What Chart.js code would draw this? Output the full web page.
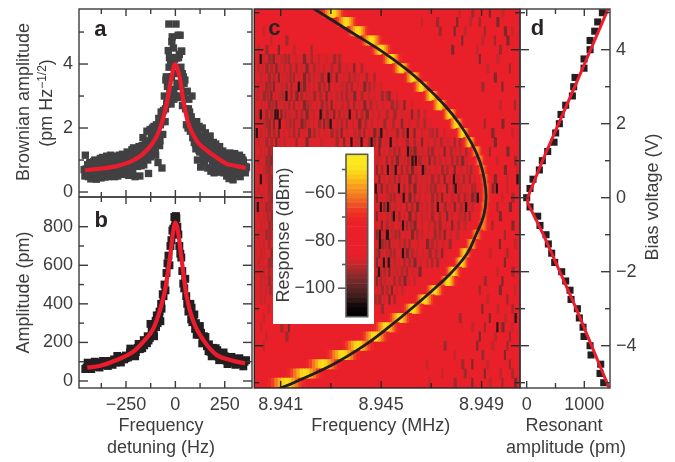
<!DOCTYPE html>
<html><head><meta charset="utf-8">
<style>html,body{margin:0;padding:0;background:#fff;width:675px;height:462px;overflow:hidden}
canvas{position:absolute;left:0;top:0;pointer-events:none}
#white{position:absolute;left:273px;top:147px;width:101px;height:177px;background:#fff}</style>
<script src="https://cdn.jsdelivr.net/npm/chart.js@4"></script>
</head><body>
<script>
// ---------- panel a: Brownian amplitude ----------
const brownianHz=[-456,-452,-448,-444,-440,-436,-432,-428,-424,-420,-416,-412,-408,-404,-400,-396,-392,-388,-384,-380,
-376,-372,-368,-364,-360,-356,-352,-348,-344,-340,-336,-332,-328,-324,-320,-316,-312,-308,-304,-300,
-296,-292,-288,-284,-280,-276,-272,-268,-264,-260,-256,-252,-248,-244,-240,-236,-232,-228,-224,-220,
-216,-212,-208,-204,-200,-196,-192,-188,-184,-180,-176,-172,-168,-164,-160,-156,-152,-148,-144,-140,
-136,-132,-128,-124,-120,-116,-112,-108,-104,-100,-96,-92,-88,-84,-80,-76,-72,-68,-64,-60,
-56,-52,-48,-44,-40,-36,-32,-28,-24,-20,-16,-12,-8,-4,0,4,8,12,16,20,
24,28,32,36,40,44,48,52,56,60,64,68,72,76,80,84,88,92,96,100,
104,108,112,116,120,124,128,132,136,140,144,148,152,156,160,164,168,172,176,180,
184,188,192,196,200,204,208,212,216,220,224,228,232,236,240,244,248,252,256,260,
264,268,272,276,280,284,288,292,296,300,304,308,312,316,320,324,328,332,336,340,344,348,352,356,
-33,3,-18,14,-10,-30,20,30,-34,-46,-42,-28,-5,-15,10,-8,8,15,-22,35,44,-50,28,
-462,-450,-438,-426,-414,-402,-390,-378,-366,-354,-342,-330,-318,-306,-294,-282,-270,-258,-246,-234,-222,-210,-198,-186,-174,-162,-150,-138,-126,-114,-102,-90,-78,-66,
-458,-434,-410,-386,-362,-338,-314,-290,-266,-242,-218,-194,-170,-146,-122,-98,-74,
66,78,90,102,114,126,138,150,162,174,186,198,210,222,234,246,258,270,282,294,306,318,330,342,354,
72,96,120,144,168,192,216,240,264,288,312,336,360];
const brownianAmp=[1.15,.72,.55,.85,.48,.62,.92,.41,.70,.55,.88,.46,1.0,.60,.40,.78,.95,.52,.68,1.05,
.44,.82,1.08,.58,.90,.47,.72,1.12,.62,.48,.95,.70,1.15,.52,.85,1.02,.60,.48,.92,1.12,
.65,.50,.98,1.15,.72,.88,.55,1.18,.80,.62,1.08,.58,.92,1.25,.70,.52,1.2,.85,1.0,1.32,
.70,1.38,.92,.48,1.15,1.35,.80,1.05,1.42,.50,1.22,.95,1.45,1.7,.85,1.3,1.6,1.1,1.9,1.0,
.58,1.5,1.95,1.25,1.75,2.0,1.35,2.05,1.55,1.15,2.1,1.7,.92,2.3,1.45,2.1,2.5,.75,1.8,2.55,
3.0,2.2,3.5,2.75,3.3,4.42,3.9,2.9,4.05,3.6,4.85,4.2,3.2,4.15,3.0,4.2,3.7,2.95,4.2,3.3,
4.9,3.9,4.4,2.7,3.6,3.0,3.5,2.6,2.1,3.15,2.0,2.9,2.5,1.9,2.35,3.0,1.7,2.1,1.55,1.9,
1.35,2.2,1.0,1.75,2.05,1.25,.78,1.6,2.0,1.15,1.5,.95,1.85,1.2,1.65,.75,1.4,1.05,1.75,.65,
1.3,.85,1.55,.6,1.1,1.5,.9,.62,1.35,1.05,1.42,.72,1.2,.9,1.28,.6,1.05,1.2,.75,.5,
1.15,.88,.42,1.22,.7,1.0,.55,.38,.95,1.2,.78,.55,1.1,.82,.65,1.15,.48,.92,1.08,.7,.95,.62,.8,.72,
5.25,5.25,4.7,4.9,4.5,4.2,4.3,4.4,3.4,3.6,2.9,3.1,4.2,4.2,4.2,2.9,3.4,3.0,2.75,3.7,3.4,2.6,3.3,
.7,.52,.78,.6,.95,.72,.55,.88,.66,.98,.75,.58,1.06,.82,.6,1.0,.68,.9,1.1,.78,.6,1.15,.95,1.2,.82,1.0,1.25,1.5,1.1,1.65,1.35,1.85,1.6,2.2,
.5,.9,.58,.8,.68,.85,.75,.8,1.05,.9,1.1,1.28,1.4,1.55,1.7,1.9,2.25,
2.6,2.3,1.95,1.5,1.85,1.45,1.7,1.3,1.55,1.25,1.4,1.0,1.25,.8,1.15,.92,.85,1.05,.7,1.1,.95,.6,.85,1.0,.6,
2.15,1.7,1.3,1.0,1.2,1.1,.8,.95,.7,.78,.95,.62,.78];
const brownianFitHz=[-457,-380,-297,-213,-162,-111,-78,-44,-19,-8,0,8,23,40,66,108,159,209,260,310,356];
const brownianFitAmp=[.68,.73,.81,.99,1.2,1.56,1.98,2.76,3.6,3.92,4.0,3.9,3.55,2.86,2.14,1.6,1.3,1.08,.88,.81,.75];

// ---------- panel b: driven amplitude ----------
const drivenHz=[-450,-440,-430,-420,-410,-400,-390,-380,-370,-360,-350,-340,-330,-320,-310,-300,-290,-280,-270,-260,
-250,-240,-230,-220,-210,-200,-190,-180,-170,-160,-150,-140,-130,-120,-110,-100,-90,-80,-70,-60,
-50,-40,-30,-20,-10,0,10,20,30,40,50,60,70,80,90,100,110,120,130,140,
150,160,170,180,190,200,210,220,230,240,250,260,270,280,290,300,310,320,330,340,350,
-55,-45,-35,-25,-15,-5,5,15,25,35,45,55,-8,8,-3,3,
-456,-444,-426,-408,-384,-366,-342,-318,-294,-276,-252,-228,-204,-186,-168,-144,-126,-108,-94,-76,-64,
66,76,86,96,108,124,136,152,168,184,204,222,244,264,284,304,324,344,358,
-72,-82,-98,-114,-136,-158,82,104,118,144,176,212];
const drivenAmp=[70,88,78,92,74,86,80,95,82,98,88,104,92,100,112,96,118,106,124,112,
132,122,148,134,158,150,172,165,180,212,200,232,222,260,262,312,300,360,375,440,
470,610,600,730,790,835,800,700,640,505,530,400,385,320,330,270,285,240,250,205,
218,180,190,160,172,135,150,125,138,118,128,105,118,100,115,96,110,92,105,88,100,
500,560,650,700,780,850,845,760,660,570,480,440,760,770,800,855,
62,95,62,100,70,104,78,84,130,96,118,168,128,192,170,196,296,232,340,310,450,
360,400,305,345,240,285,195,228,155,128,170,108,148,88,125,84,118,76,108,
400,340,280,290,210,185,380,300,275,232,152,160];
const drivenFitHz=[-446,-381,-297,-213,-162,-111,-78,-52,-27,-10,0,12,32,57,91,142,209,277,353];
const drivenFitAmp=[69,79,109,152,204,273,368,472,645,783,821,783,627,437,308,212,135,109,91];

// ---------- panel c: response map ----------
const biasV=[5,4.75,4.5,4.25,4,3.75,3.5,3.25,3,2.75,2.5,2.25,2,1.75,1.5,1.25,1,.75,.5,.25,0,-.25,-.5,-.75,-1,-1.25,-1.5,-1.75,-2,-2.25,-2.5,-2.75,-3,-3.25,-3.5,-3.75,-4,-4.25,-4.5,-4.75,-5];
const peakMHz=[8.94310,8.94363,8.94409,8.94463,8.94502,8.94542,8.94582,8.94628,8.94662,8.94702,8.94735,8.94775,8.94801,8.94827,8.94854,8.94881,8.94894,8.94905,8.94914,8.94918,8.94918,8.94914,8.94910,8.94907,8.94881,8.94861,8.94834,8.94821,8.94788,8.94768,8.94715,8.94675,8.94628,8.94575,8.94522,8.94476,8.94409,8.94349,8.94270,8.94197,8.94124];
const peakTopDb=[-50,-50,-50,-50,-50,-50,-50,-50,-50,-50,-50,-50,-50,-50,-52,-56,-58,-60,-60,-60,-60,-60,-60,-60,-58,-56,-52,-50,-50,-50,-50,-50,-50,-50,-50,-50,-50,-50,-50,-50,-50];
const peakHalfKHz=[.45,.4,.4,.4,.38,.36,.34,.32,.32,.3,.3,.28,.28,.26,.24,.22,.2,.2,.18,.18,.18,.18,.18,.2,.22,.24,.26,.28,.3,.32,.34,.36,.38,.42,.46,.5,.55,.6,.62,.65,.68];
const peakShapeAt=[-1,-.8,-.6,-.4,-.2,0,.2,.4,.6,.8,1];
const peakShape=[.05,.25,.5,.72,.92,1,.92,.72,.5,.25,.05];
const dimEndKHz=[0,0,0,0,0,3.5,4,4.5,5,5.5,6,6.5,7,7.3,7.8,8,8.2,8.4,8.5,8.5,8.6,8.6,8.5,8.3,8,7.8,7.4,7,6.5,6,5.5,5,0,0,0,0,0,0,0,0,0];
const midStreakKHz=[[8.1,8.6,9.3,9.8],[6.6,7.2,8.0,8.5,8.9,9.6],[.3,7.3,7.9,8.3,9.1,9.9,10.2],[.6,1.2,8.2,9.0,9.5,10.0],[.1,.4,.9,1.5,2.2,7.8,8.8,9.7],
[.3,.5,.7,1.0,1.3,1.9,2.5,3.1,8.9,9.6],[.1,.4,.8,1.1,1.6,2.0,2.7,3.3,3.9,9.2,10.1],[.2,.5,.9,1.2,1.5,1.9,2.3,2.6,3.2,3.9,4.4,9.5],[.1,.4,.7,1.0,1.4,1.9,2.1,2.5,2.9,3.4,3.8,4.3,4.7,9.0,9.8],
[.05,.3,.6,.9,1.4,1.6,2.0,2.3,2.8,3.2,3.6,3.9,4.5,5.0,5.3],[.2,.5,.8,1.1,1.5,1.9,2.2,2.6,3.0,3.4,3.9,4.3,4.8,5.4,5.9,9.7,10.3],[.1,.4,1.0,1.3,1.6,2.0,2.3,2.8,3.1,3.5,4.0,4.4,4.9,5.5,6.2,6.7],
[.3,.5,.7,1.2,1.5,1.8,2.1,2.5,2.7,3.2,3.6,4.1,4.6,5.1,5.8,6.4,9.1,9.8],[.2,.5,.9,1.3,1.7,2.1,2.5,3.0,3.4,3.9,4.3,4.7,5.2,5.6,6.3,6.9,7.2,9.4,10.2],[.1,.4,.8,1.1,1.6,2.0,2.6,3.2,3.5,4.0,4.5,4.9,5.6,6.0,6.6,7.1,7.9,9.5],
[.2,.5,4.9,5.3,5.7,6.3,6.6,7.0,7.5,8.1,9.3,10.0],[.1,.4,.6,4.8,5.2,5.6,5.9,6.5,6.9,7.3,7.8,8.2,9.6,10.3],[.3,.5,4.8,5.4,5.8,6.2,6.9,7.4,7.9,8.4,9.2,9.9,10.4],[.4,.6,4.9,5.3,5.7,6.1,6.6,7.0,7.5,8.0,8.5,9.5,10.0,10.4],
[.1,.5,5.0,5.4,5.9,6.3,6.8,7.1,7.6,8.1,8.6,9.4,10.0],[.2,.6,4.8,5.2,5.5,6.1,6.5,7.0,7.4,7.8,8.3,8.6,9.8,10.2],[.1,.4,5.1,5.5,6.0,6.4,6.8,7.5,7.9,8.6,9.6,10.1],[.3,.6,4.8,5.2,5.7,6.1,6.6,7.0,7.6,8.1,8.5,9.7],[.2,.5,5.0,5.4,6.0,6.3,6.9,7.3,7.8,8.3,9.4,10.2],
[.1,.4,4.8,5.4,5.7,6.2,6.6,7.1,7.5,8.0,9.9],[.3,5.0,5.3,5.7,6.1,6.8,7.2,7.7,9.7,10.3],[.2,.6,4.9,5.2,5.5,6.0,6.4,6.9,7.4,9.3,10.0],[.1,.5,4.8,5.5,5.9,6.3,6.8,7.2,9.9],[.3,4.9,5.3,5.6,6.0,6.5,9.6,10.2],[.2,.5,4.8,5.1,5.5,5.9,6.3,9.1,9.8],[.4,5.0,5.4,5.8,8.9,9.7,10.3],[.2,4.9,5.3,9.2,10.0],[.5,5.0,9.0,9.6,10.2],[.3,8.1,9.3,9.9,10.3],[.2,1.0,1.3,8.6,9.1,9.8,10.2],[.4,1.2,8.9,9.5,10.1],[.3,7.5,8.8,9.4,10.0],[7.9,9.0,9.9],[6.8,8.2,8.6,9.2,10.1],[7.4,8.3,9.1,9.7,10.2],[6.9,7.9,8.6,9.3,9.8,10.3]];
// fine streaks, rows V=3.75 down to V=-2.75
const fineFirstRow=5;
const fineStreakKHz=[[.15,.6,.85,1.15,1.6,2.2,2.8,3.3],[.25,.6,.95,1.35,1.8,2.3,2.5,3.0,3.6,4.2],[.35,.7,1.05,1.35,1.7,2.1,2.45,2.95,3.5,3.7,4.1,4.7],[.25,.55,.85,1.2,1.55,1.75,2.3,2.7,3.15,3.6,4.05,4.5,5.0],
[.15,.45,.75,1.05,1.25,1.8,2.15,2.55,3.0,3.4,3.75,4.2,4.7,5.2,5.6],[.35,.65,.95,1.3,1.7,2.05,2.4,2.8,3.2,3.65,4.1,4.55,5.05,5.6,6.2],[.25,.6,.85,1.15,1.45,1.8,2.15,2.6,2.95,3.3,3.8,4.2,4.65,5.2,5.8,6.45],[.15,.4,.95,1.35,1.65,1.95,2.3,2.85,3.0,3.4,3.85,4.35,4.85,5.45,6.1,6.7],
[.35,.7,1.1,1.5,1.9,2.3,2.75,3.2,3.65,4.1,4.5,4.9,5.4,5.85,6.6,7.0,7.5],[.25,.6,.95,4.7,5.15,5.35,5.85,6.3,6.85,7.35,7.65,8.1],[.35,.65,5.1,5.5,5.95,6.15,6.45,6.85,7.25,7.75,7.95,8.35],[.25,.5,4.95,5.4,5.8,6.05,6.7,7.1,7.55,8.0,8.4],
[.15,.4,.65,5.0,5.6,6.0,6.4,6.7,7.15,7.6,8.15,8.55],[.25,.5,5.1,5.5,5.9,6.35,6.8,7.25,7.7,8.25,8.7],[.3,.65,4.9,5.2,5.65,6.1,6.55,6.95,7.35,7.85,8.35,8.7],[.35,.5,5.0,5.35,5.75,6.3,6.75,7.2,7.6,8.05,8.45,8.75],[.25,.55,4.8,5.3,5.75,6.2,6.6,7.0,7.7,8.15,8.4],[.15,.45,5.0,5.4,5.9,6.35,6.8,7.3,7.8,8.3],[.35,.65,4.8,5.2,5.7,6.15,6.6,7.1,7.55,8.05],
[.25,.55,5.05,5.55,5.95,6.4,6.85,7.3,7.75],[.15,.5,4.8,5.15,5.5,5.9,6.45,7.0,7.45],[.35,4.8,5.05,5.35,5.75,6.2,6.65,7.15],[.25,.6,5.0,5.3,5.7,6.1,6.55,7.0],[.15,.5,4.75,5.1,5.45,5.8,6.25],[.35,4.95,5.3,5.7,6.1],[.2,.55,4.85,5.2,5.6],[.35,4.75,5.1,5.5]];
const deepStreakV=[3.75,3.25,3,2.75,2.25,2.25,2.25,2.25,2,2,1.75,1.75,1.75,1.5,1.5,1.5,1.5,1.25,1,1,.75,.75,.75,.5,.25,.25,.25,.25,0,0,-.25,-.25,-.25,-.25,-.5,-.75,-1,-1,-1,-1.25,-1.5,-1.75,-1.75,-2,-3.25,-3.5,.5,2.25,.5,-.25];
const deepStreakKHz=[.175,2.88,1.69,1.2,.76,.85,2.56,3.72,.93,2.96,.02,4.98,6.03,3.79,4.19,4.59,5.35,6.04,6.22,6.35,5.24,5.55,6.63,7.87,4.76,5.68,7.94,9.58,5.87,8.82,4.96,5.24,7.23,8.35,5.48,5.84,4.92,5.24,5.2,4.92,5.84,5.08,5.27,4.88,10.33,9.6,10.4,.18,.18,.06];
const curveV=[5.16,4.5,4,3.5,3,2.5,2,1.5,1,.5,0,-.5,-1,-1.5,-2,-2.5,-3,-3.5,-4,-4.5,-5,-5.18];
const curveMHz=[8.94220,8.94375,8.94493,8.94595,8.94680,8.94753,8.94812,8.94858,8.94892,8.94911,8.94918,8.94908,8.94878,8.94843,8.94783,8.94705,8.94620,8.94530,8.94432,8.94310,8.94152,8.94085];
const colorbarDb=[-112,-110,-108,-106,-104,-102,-100,-98,-96,-94,-92,-90,-88,-86,-84,-82,-80,-78,-76,-74,-72,-70,-68,-66,-64,-62,-60,-58,-56,-54,-52,-50,-48,-46,-44];

// ---------- panel d: resonant amplitude ----------
const resonantV=biasV;
const resonantPm=[1314,1233,1181,1100,1100,995,995,839,816,793,677,596,567,503,475,365,272,220,110,58,0,58,191,231,336,376,434,486,608,677,752,770,880,914,978,995,1100,1117,1285,1273,1337];
const resonantFitV=[5.12,3,1,0,-.15,-1,-3,-5.14];
const resonantFitPm=[1418,835,275,15,20,290,860,1430];

// ---------- ticks ----------
const freqMajor=[-250,0,250], freqMinor=[-375,-125,125];
const aMajor=[0,2,4], aMinor=[1,3,5];
const bMajor=[0,200,400,600,800], bMinor=[100,300,500,700];
const cXMajor=[8.941,8.945,8.949], cXMinor=[8.943,8.947];
const vMajor=[-4,-2,0,2,4], vMinor=[-5,-3,-1,1,3,5];
const dXMajor=[0,1000], dXMinor=[500];
const barMajor=[-100,-80,-60], barMinor=[-90,-70,-50];

// ---------- helpers ----------
const INK='#3c3c3e', RED='#ed1c2c', FONT='"Liberation Sans"';
Chart.defaults.font.family=FONT; Chart.defaults.font.size=18; Chart.defaults.color=INK;
const ramp=[[-112,[0,0,0]],[-108,[10,5,6]],[-104,[58,29,29]],[-100,[90,37,38]],[-96,[126,42,43]],[-92,[170,42,44]],[-88,[217,35,42]],[-85,[232,31,42]],[-72,[236,32,39]],[-68,[238,49,36]],[-64,[240,90,40]],[-60,[245,130,32]],[-56,[249,166,27]],[-52,[252,209,22]],[-48,[251,232,31]],[-44,[251,232,31]]];
function dbColor(d){for(let i=1;i<ramp.length;i++){if(d<=ramp[i][0]){const a=ramp[i-1],b=ramp[i],t=Math.max(0,(d-a[0])/(b[0]-a[0]));return 'rgb('+a[1].map((c,j)=>Math.round(c+(b[1][j]-c)*t)).join(',')+')';}}return 'rgb(251,232,31)';}
const minus=v=>String(v).replace('-','\u2212');
function zeroPad(s){s.paddingLeft=s.paddingRight=s.paddingTop=s.paddingBottom=0;}
function axis(pos,min,max,ticks,cb,pad,hide,size){
  const horiz=pos==='bottom';
  return {type:'linear',position:pos,min,max,display:!hide,
    grid:{display:false,drawTicks:false},border:{display:false},
    ticks:{autoSkip:false,minRotation:0,maxRotation:0,padding:pad,callback:cb||minus,color:INK,font:{size:18,family:FONT}},
    afterBuildTicks:s=>{s.ticks=ticks.map(v=>({value:v}));},
    afterFit:s=>{if(horiz)s.height=size;else s.width=size;zeroPad(s);}};
}
const framePlugin={id:'frameTicks',afterDraw(ch,_a,o){
  const c=ch.ctx,A=ch.chartArea,X=ch.scales.x,Y=ch.scales.y;
  c.save();c.lineCap='butt';c.strokeStyle=o.color||INK;c.lineWidth=o.width||1.4;
  if(o.frame!==false)c.strokeRect(A.left,A.top,A.right-A.left,A.bottom-A.top);
  const line=(a,b,d,e)=>{c.beginPath();c.moveTo(a,b);c.lineTo(d,e);c.stroke();};
  const ys=o.y||{},xs=o.x||{};
  [[ys.major||[],ys.majorLen||9],[ys.minor||[],ys.minorLen||5]].forEach(([l,n])=>l.forEach(v=>{const p=Y.getPixelForValue(v);
    if(o.outLeft){line(A.left,p,A.left-n,p);}else{line(A.left,p,A.left+n,p);line(A.right,p,A.right-n,p);}}));
  [[xs.major||[],xs.majorLen||7],[xs.minor||[],xs.minorLen||5]].forEach(([l,n])=>l.forEach(v=>{const p=X.getPixelForValue(v);
    line(p,A.top,p,A.top+n);line(p,A.bottom,p,A.bottom-n);}));
  (o.texts||[]).forEach(t=>{c.save();c.translate(t.x,t.y);if(t.rot)c.rotate(t.rot);c.fillStyle=t.color||INK;
    c.font=(t.bold?'bold ':'')+(t.size||18)+'px '+FONT;c.textBaseline=t.base||'middle';c.textAlign=t.align||'center';
    if(t.sup){const w1=c.measureText(t.text).width;c.font='12px '+FONT;const w2=c.measureText(t.sup).width;c.font='18px '+FONT;const w3=c.measureText(t.end).width;
      let x0=-(w1+w2+w3)/2;c.textAlign='left';c.fillText(t.text,x0,0);c.font='12px '+FONT;c.fillText(t.sup,x0+w1,-5);c.font='18px '+FONT;c.fillText(t.end,x0+w1+w2,0);}
    else c.fillText(t.text,0,0);c.restore();});
  c.restore();}};
// box=[left,right,top,bottom] of the plot; room = px reserved for visible axes
function make(box,z,cfg,room){
  room=room||{};
  const cv=document.createElement('canvas');cv.width=675;cv.height=462;cv.style.zIndex=z;
  cv.style.width='675px';cv.style.height='462px';document.body.appendChild(cv);
  cfg.options=Object.assign({responsive:false,animation:false,devicePixelRatio:1,
    layout:{padding:{left:box[0]-(room.left||0),right:675-box[1]-(room.right||0),top:box[2],bottom:462-box[3]-(room.bottom||0)}}},cfg.options);
  cfg.options.plugins=Object.assign({legend:{display:false},tooltip:{enabled:false}},cfg.options.plugins);
  cfg.plugins=[framePlugin];
  return new Chart(cv.getContext('2d'),cfg);
}
const UP=-Math.PI/2;
const pts=(xs,ys)=>xs.map((x,i)=>({x,y:ys[i]}));
const fitLine=(xs,ys,w,col)=>({data:pts(xs,ys),showLine:true,borderColor:col||RED,borderWidth:w,pointRadius:0,cubicInterpolationMode:'monotone',order:0});
const sq=(xs,ys,col,r)=>({data:pts(xs,ys),showLine:false,pointStyle:'rect',pointRadius:r,backgroundColor:col,borderWidth:0,order:1});

// ---------- heat map layer ----------
const fLo=8.93995,fHi=8.95053;
const k2m=k=>8.94+k/1000;
const layer=(data,cols,order,th)=>({data,backgroundColor:cols,borderWidth:0,grouped:false,barThickness:th,order});
const baseBars=biasV.map(v=>({x:[fLo,fHi],y:v}));
const dimBars=[],dimCols=[],midBars=[],midCols=[],fineBars=[],fineCols=[],peakBars=[],peakCols=[];
biasV.forEach((v,i)=>{
  if(dimEndKHz[i]>0){dimBars.push({x:[fLo,k2m(dimEndKHz[i])],y:v});dimCols.push(dbColor(-87.2));}
  midStreakKHz[i].forEach((k,j)=>{midBars.push({x:[k2m(k),k2m(k+.06+(j%2)*.04)],y:v});midCols.push(dbColor(-90-(j%3)*3));});
  (fineStreakKHz[i-fineFirstRow]||[]).forEach((k,j)=>{fineBars.push({x:[k2m(k),k2m(k+.05+(j%2)*.03)],y:v});fineCols.push(dbColor(-89-(j%2)*3));});
  peakShapeAt.forEach((o,j)=>{const h=peakHalfKHz[i]/1000,m=peakMHz[i]+o*h;
    peakBars.push({x:[m-h*.11,m+h*.11],y:v});peakCols.push(dbColor(-72+(peakTopDb[i]+72)*peakShape[j]));});
});
const deepBars=deepStreakV.map((v,i)=>({x:[k2m(deepStreakKHz[i]),k2m(deepStreakKHz[i]+.06)],y:v}));
make([254.3,520,9,388],1,{type:'bar',data:{datasets:[
   layer(baseBars,'rgb(233,32,42)',6,10),layer(dimBars,dimCols,5,9.4),layer(fineBars,fineCols,4,9.4),layer(midBars,midCols,3,9.4),
   layer(deepBars,deepBars.map(()=>'rgb(35,20,22)'),2,9.4),layer(peakBars,peakCols,1,9.4)]},
  options:{indexAxis:'y',scales:{x:{type:'linear',min:fLo,max:fHi,display:false,offset:false},y:{type:'linear',min:-5.143,max:5.1,display:false,offset:false}},
    plugins:{frameTicks:{frame:false}}}});

// ---------- panel c overlay (curve, axes) ----------
make([254.3,520,9,388],2,{type:'scatter',data:{datasets:[
   {data:pts(curveMHz,curveV),showLine:true,borderColor:'#231f20',borderWidth:2.8,pointRadius:0,tension:.4}]},
  options:{scales:{x:axis('bottom',fLo,fHi,cXMajor,v=>v.toFixed(3),6,false,30),y:axis('left',-5.143,5.1,vMajor,minus,6,true,0)},
    plugins:{frameTicks:{color:'#2a2325',x:{major:cXMajor,minor:cXMinor},y:{major:vMajor,minor:vMinor,majorLen:9,minorLen:5},
      texts:[{text:'c',x:268.3,y:35.3,size:22,bold:true,base:'alphabetic',align:'left',color:'#2a2325'},
             {text:'Frequency (MHz)',x:380.7,y:426.5}]}}}},{bottom:30});

// ---------- colour bar ----------
const white=document.createElement('div');white.id='white';white.style.zIndex=3;document.body.appendChild(white);
const cbBars=colorbarDb.map(d=>({x:0,y:[d,d+2]}));
make([346,367.7,154.3,316.7],4,{type:'bar',data:{datasets:[
   {data:cbBars,backgroundColor:colorbarDb.map(d=>dbColor(d+1)),borderWidth:0,grouped:false,barThickness:24}]},
  options:{scales:{x:{type:'linear',min:-1,max:1,display:false,offset:false},y:axis('left',-112,-43.6,barMajor,minus,11,false,60)},
    plugins:{frameTicks:{outLeft:true,color:'#5a5a5a',width:1.6,y:{major:barMajor,minor:barMinor,majorLen:8,minorLen:4},
      texts:[{text:'Response (dBm)',x:284,y:235,rot:UP}]}}}},{left:60});

// ---------- panel a ----------
make([79,252,9,197],5,{type:'scatter',data:{datasets:[fitLine(brownianFitHz,brownianFitAmp,4.2),sq(brownianHz,brownianAmp,'#414042',5.2)]},
  options:{scales:{x:axis('bottom',-488,388,[],minus,5,true,0),y:axis('left',-.156,5.72,aMajor,minus,6,false,70)},
    plugins:{frameTicks:{x:{major:freqMajor,minor:freqMinor},y:{major:aMajor,minor:aMinor},
      texts:[{text:'a',x:94.3,y:35.7,size:22,bold:true,base:'alphabetic',align:'left',color:'#2a2325'},
             {text:'Brownian amplitude',x:24,y:102,rot:UP},
             {text:'(pm Hz',sup:'\u22121/2',end:')',x:47.5,y:103,rot:UP}]}}}},{left:70});

// ---------- panel b ----------
make([79,252,197,388],6,{type:'scatter',data:{datasets:[fitLine(drivenFitHz,drivenFitAmp,4.2),sq(drivenHz,drivenAmp,'#231f20',5.6)]},
  options:{scales:{x:axis('bottom',-488,388,freqMajor,minus,6,false,30),y:axis('left',-36.3,954,bMajor,minus,6,false,70)},
    plugins:{frameTicks:{x:{major:freqMajor,minor:freqMinor},y:{major:bMajor,minor:bMinor},
      texts:[{text:'b',x:94.5,y:227.3,size:22,bold:true,base:'alphabetic',align:'left',color:'#2a2325'},
             {text:'Amplitude (pm)',x:24,y:292.5,rot:UP},
             {text:'Frequency',x:161,y:426.5},{text:'detuning (Hz)',x:161,y:448}]}}}},{left:70,bottom:30});

// ---------- panel d ----------
make([520,610,9,388],7,{type:'scatter',data:{datasets:[
    {data:pts(resonantFitPm,resonantFitV),showLine:true,borderColor:RED,borderWidth:3,pointRadius:0,order:0},
    sq(resonantPm,resonantV,'#231f20',5)]},
  options:{scales:{x:axis('bottom',-116,1446,dXMajor,minus,6,false,30),y:axis('right',-5.143,5.1,vMajor,minus,6,false,40)},
    plugins:{frameTicks:{x:{major:dXMajor,minor:dXMinor},y:{major:vMajor,minor:vMinor},
      texts:[{text:'d',x:530.7,y:35.3,size:22,bold:true,base:'alphabetic',align:'left',color:'#2a2325'},
             {text:'Resonant',x:564,y:426.5},{text:'amplitude (pm)',x:566,y:448},
             {text:'Bias voltage (V)',x:653,y:197,rot:UP}]}}}},{right:40,bottom:30});
</script>
</body></html>
